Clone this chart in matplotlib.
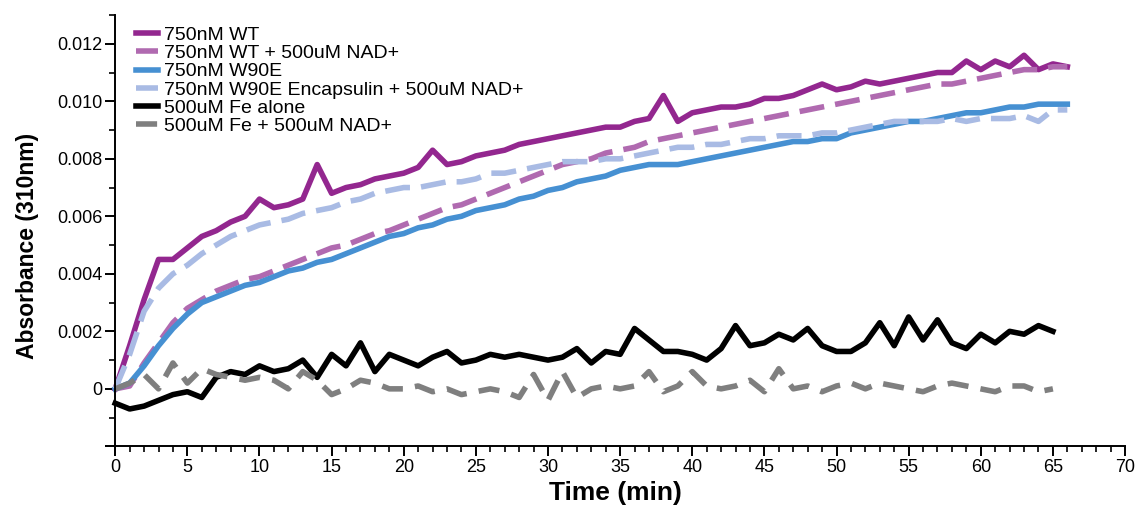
import numpy as np
import matplotlib
matplotlib.use('Agg')
import matplotlib.pyplot as plt
from matplotlib.ticker import MultipleLocator, FuncFormatter

# time in minutes (one reading per minute)
time_protein = list(range(0, 67))
time_fe = list(range(0, 66))

wt = [0.0000, 0.0015, 0.0031, 0.0045, 0.0045, 0.0049, 0.0053, 0.0055, 0.0058, 0.0060,
      0.0066, 0.0063, 0.0064, 0.0066, 0.0078, 0.0068, 0.0070, 0.0071, 0.0073, 0.0074,
      0.0075, 0.0077, 0.0083, 0.0078, 0.0079, 0.0081, 0.0082, 0.0083, 0.0085, 0.0086,
      0.0087, 0.0088, 0.0089, 0.0090, 0.0091, 0.0091, 0.0093, 0.0094, 0.0102, 0.0093,
      0.0096, 0.0097, 0.0098, 0.0098, 0.0099, 0.0101, 0.0101, 0.0102, 0.0104, 0.0106,
      0.0104, 0.0105, 0.0107, 0.0106, 0.0107, 0.0108, 0.0109, 0.0110, 0.0110, 0.0114,
      0.0111, 0.0114, 0.0112, 0.0116, 0.0111, 0.0113, 0.0112]

wt_nad = [0.0000, 0.0001, 0.0009, 0.0016, 0.0023, 0.0028, 0.0031, 0.0034, 0.0036, 0.0038,
          0.0039, 0.0041, 0.0043, 0.0045, 0.0047, 0.0049, 0.0050, 0.0052, 0.0054, 0.0055,
          0.0057, 0.0059, 0.0061, 0.0063, 0.0064, 0.0066, 0.0068, 0.0070, 0.0072, 0.0074,
          0.0076, 0.0078, 0.0079, 0.0080, 0.0082, 0.0083, 0.0084, 0.0086, 0.0087, 0.0088,
          0.0089, 0.0090, 0.0091, 0.0092, 0.0093, 0.0094, 0.0095, 0.0096, 0.0097, 0.0098,
          0.0099, 0.0100, 0.0101, 0.0102, 0.0103, 0.0104, 0.0105, 0.0106, 0.0106, 0.0107,
          0.0108, 0.0109, 0.0110, 0.0111, 0.0111, 0.0112, 0.0112]

w90e = [0.0000, 0.0002, 0.0008, 0.0015, 0.0021, 0.0026, 0.0030, 0.0032, 0.0034, 0.0036,
        0.0037, 0.0039, 0.0041, 0.0042, 0.0044, 0.0045, 0.0047, 0.0049, 0.0051, 0.0053,
        0.0054, 0.0056, 0.0057, 0.0059, 0.0060, 0.0062, 0.0063, 0.0064, 0.0066, 0.0067,
        0.0069, 0.0070, 0.0072, 0.0073, 0.0074, 0.0076, 0.0077, 0.0078, 0.0078, 0.0078,
        0.0079, 0.0080, 0.0081, 0.0082, 0.0083, 0.0084, 0.0085, 0.0086, 0.0086, 0.0087,
        0.0087, 0.0089, 0.0090, 0.0091, 0.0092, 0.0093, 0.0093, 0.0094, 0.0095, 0.0096,
        0.0096, 0.0097, 0.0098, 0.0098, 0.0099, 0.0099, 0.0099]

w90e_encap_nad = [0.0000, 0.0012, 0.0027, 0.0035, 0.0040, 0.0043, 0.0047, 0.0050, 0.0053, 0.0055,
                  0.0057, 0.0058, 0.0059, 0.0061, 0.0062, 0.0063, 0.0065, 0.0066, 0.0068, 0.0069,
                  0.0070, 0.0070, 0.0071, 0.0072, 0.0072, 0.0073, 0.0075, 0.0075, 0.0076, 0.0077,
                  0.0078, 0.0079, 0.0079, 0.0079, 0.0080, 0.0080, 0.0081, 0.0082, 0.0083, 0.0084,
                  0.0084, 0.0085, 0.0085, 0.0086, 0.0087, 0.0087, 0.0088, 0.0088, 0.0088, 0.0089,
                  0.0089, 0.0090, 0.0091, 0.0092, 0.0093, 0.0093, 0.0093, 0.0093, 0.0094, 0.0093,
                  0.0094, 0.0094, 0.0094, 0.0095, 0.0093, 0.0097, 0.0097]

fe_alone = [-0.0005, -0.0007, -0.0006, -0.0004, -0.0002, -0.0001, -0.0003, 0.0004, 0.0006, 0.0005,
            0.0008, 0.0006, 0.0007, 0.0010, 0.0004, 0.0012, 0.0008, 0.0016, 0.0006, 0.0012,
            0.0010, 0.0008, 0.0011, 0.0013, 0.0009, 0.0010, 0.0012, 0.0011, 0.0012, 0.0011,
            0.0010, 0.0011, 0.0014, 0.0009, 0.0013, 0.0012, 0.0021, 0.0017, 0.0013, 0.0013,
            0.0012, 0.0010, 0.0014, 0.0022, 0.0015, 0.0016, 0.0019, 0.0017, 0.0021, 0.0015,
            0.0013, 0.0013, 0.0016, 0.0023, 0.0015, 0.0025, 0.0017, 0.0024, 0.0016, 0.0014,
            0.0019, 0.0016, 0.0020, 0.0019, 0.0022, 0.0020]

fe_nad = [0.0000, 0.0002, 0.0005, 0.0000, 0.0009, 0.0002, 0.0007, 0.0005, 0.0004, 0.0003,
          0.0004, 0.0003, 0.0000, 0.0006, 0.0003, -0.0002, 0.0000, 0.0003, 0.0002, 0.0000,
          0.0000, 0.0001, -0.0001, 0.0000, -0.0002, -0.0001, 0.0000, -0.0001, -0.0003, 0.0005,
          -0.0004, 0.0006, -0.0003, 0.0000, 0.0001, 0.0000, 0.0001, 0.0006, -0.0001, 0.0001,
          0.0006, 0.0001, 0.0000, 0.0001, 0.0003, -0.0001, 0.0007, 0.0000, 0.0001, -0.0001,
          0.0001, 0.0002, 0.0000, 0.0002, 0.0001, 0.0000, -0.0001, 0.0001, 0.0002, 0.0001,
          0.0000, -0.0001, 0.0001, 0.0001, -0.0001, 0.0000]

labels = ['750nM WT', '750nM WT + 500uM NAD+', '750nM W90E',
          '750nM W90E Encapsulin + 500uM NAD+', '500uM Fe alone', '500uM Fe + 500uM NAD+']
colors = ['#93278f', '#b06ab0', '#4690d2', '#a9bbe4', '#000000', '#7f7f7f']

plt.rcParams['font.family'] = ['Liberation Sans', 'DejaVu Sans']

fig = plt.figure(figsize=(11.38, 5.14), dpi=100)
ax = fig.add_axes([0.0934, 0.1148, 0.8952, 0.856])

lw = 4.0
ax.plot(time_protein, wt, color=colors[0], lw=lw, label=labels[0])
ax.plot(time_protein, wt_nad, color=colors[1], lw=lw, dashes=(4.5, 2.0), label=labels[1])
ax.plot(time_protein, w90e, color=colors[2], lw=lw, label=labels[2])
ax.plot(time_protein, w90e_encap_nad, color=colors[3], lw=lw, dashes=(4.5, 2.0), label=labels[3])
ax.plot(time_fe, fe_alone, color=colors[4], lw=lw, label=labels[4])
ax.plot(time_fe, fe_nad, color=colors[5], lw=lw, dashes=(3.8, 2.2), label=labels[5])

ax.set_xlim(-0.62, 70)
ax.set_ylim(-0.0023, 0.013)

ax.spines['top'].set_visible(False)
ax.spines['right'].set_visible(False)
ax.spines['left'].set_position(('data', 0))
ax.spines['bottom'].set_position(('data', -0.002))
ax.spines['left'].set_linewidth(1.4)
ax.spines['bottom'].set_linewidth(1.4)

ax.xaxis.set_major_locator(MultipleLocator(5))
ax.xaxis.set_minor_locator(MultipleLocator(1))
ax.yaxis.set_major_locator(MultipleLocator(0.002))
ax.yaxis.set_minor_locator(MultipleLocator(0.001))


def ylab(v, pos):
    # zero is written plain, the bottom tick at -0.002 has no label
    if abs(v) < 1e-9:
        return '0'
    if v < 0:
        return ''
    return '%.3f' % v


ax.yaxis.set_major_formatter(FuncFormatter(ylab))

ax.tick_params(which='major', length=7, width=1.4, labelsize=13, pad=2)
ax.tick_params(which='minor', length=4, width=1.2)

ax.set_xlabel('Time (min)', fontsize=19, fontweight='bold', labelpad=4)
ax.set_ylabel('Absorbance (310nm)', fontsize=16.5, fontweight='bold', labelpad=6)
ax.yaxis.set_label_coords(-0.066, 0.475)

ax.legend(loc='upper left', bbox_to_anchor=(0.029, 0.974), frameon=False, fontsize=14,
          handlelength=1.15, handletextpad=0.3, labelspacing=0.03, borderpad=0, borderaxespad=0)

fig.savefig('out.png', dpi=100)
